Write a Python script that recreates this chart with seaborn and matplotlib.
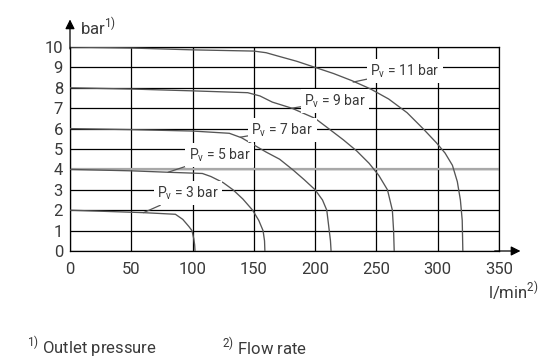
"""
Pressure / flow characteristic curves of a pressure reducing valve
"""
import numpy as np
import pandas as pd
import matplotlib
matplotlib.use("Agg")
import matplotlib.pyplot as plt
import seaborn as sns

# Curve data (flow l/min, outlet pressure bar)
flow_3 = [0, 30, 60, 86, 92, 97, 99.5, 101, 101.7, 102]
pres_3 = [2, 1.94, 1.88, 1.8, 1.55, 1.2, 1.0, 0.6, 0.3, 0]

flow_5 = [0, 50, 80, 108, 115, 125, 133, 141, 149, 154, 157.5, 158.7, 159]
pres_5 = [4, 3.93, 3.86, 3.8, 3.65, 3.35, 3.0, 2.55, 2.0, 1.5, 1.0, 0.5, 0]

flow_7 = [0, 50, 100, 130, 140, 150, 160, 171, 182, 191, 200, 206, 209.5, 211.5, 212.5, 213]
pres_7 = [6, 5.95, 5.88, 5.77, 5.55, 5.2, 4.85, 4.5, 3.97, 3.5, 3.0, 2.5, 2.0, 1.0, 0.5, 0]

flow_9 = [0, 50, 100, 145, 155, 165, 181, 200, 211, 223, 234, 244, 252, 259, 263, 264, 264.5]
pres_9 = [8, 7.94, 7.85, 7.76, 7.6, 7.3, 7.0, 6.5, 6.0, 5.45, 4.9, 4.3, 3.7, 3.0, 2.0, 1.0, 0]

flow_11 = [0, 50, 100, 150, 160, 170, 185, 200, 215, 230, 245, 260, 275, 288, 299, 306, 312, 316, 318.5, 320, 320.5]
pres_11 = [10, 9.95, 9.86, 9.8, 9.72, 9.55, 9.3, 9.0, 8.7, 8.35, 7.95, 7.45, 6.78, 6.0, 5.3, 4.8, 4.2, 3.4, 2.5, 1.5, 0]

curve_names = ["3 bar", "5 bar", "7 bar", "9 bar", "11 bar"]
flows = [flow_3, flow_5, flow_7, flow_9, flow_11]
pressures = [pres_3, pres_5, pres_7, pres_9, pres_11]

x_ticks = [0, 50, 100, 150, 200, 250, 300, 350]
y_ticks = list(range(0, 11))

# label text position and leader end point on the curve
label_pos = [(71, 2.84), (97, 4.7), (148, 5.93), (191, 7.35), (245, 8.82)]
leader_end = [(60, 1.88), (80, 3.86), (139, 5.58), (181, 7.0), (231, 8.28)]

df = pd.concat([
    pd.DataFrame({"flow": f, "pressure": p, "curve": n})
    for f, p, n in zip(flows, pressures, curve_names)
])

sns.set_style("white")
plt.rcParams['font.family'] = ['Roboto', 'DejaVu Sans']
plt.rcParams['mathtext.fontset'] = 'custom'
plt.rcParams['mathtext.rm'] = 'Roboto'
text_col = '#3a3a3a'

fig = plt.figure(figsize=(5.49, 3.63), dpi=100)
ax = fig.add_axes([70 / 549, 112 / 363, 429 / 549, 204 / 363])

ax.set_xlim(0, 350)
ax.set_ylim(0, 10)
ax.set_xticks(x_ticks)
ax.set_yticks(y_ticks)
ax.grid(True, color='black', lw=0.9)
ax.tick_params(length=0, labelsize=12, colors=text_col)
ax.tick_params(axis='x', pad=8)
ax.tick_params(axis='y', pad=5)
for sp in ax.spines.values():
    sp.set_color('black')
    sp.set_linewidth(0.9)
ax.axhline(4, color='#a8a8a8', lw=1.6, zorder=1.5)

sns.lineplot(data=df, x="flow", y="pressure", hue="curve", sort=False,
             estimator=None, palette=['#555555'] * 5, lw=0.95,
             legend=False, ax=ax, zorder=3)
ax.set_xlabel('')
ax.set_ylabel('')

for name, pos, end in zip(curve_names, label_pos, leader_end):
    ax.annotate(r'P$_{\mathregular{v}}$ = ' + name, xy=end, xytext=pos,
                fontsize=10, color=text_col, va='center', ha='left',
                bbox=dict(boxstyle='square,pad=0.25', fc='white', ec='none'),
                arrowprops=dict(arrowstyle='-', color='#555555', lw=0.9,
                                shrinkA=0, shrinkB=0),
                zorder=4)

# axis arrows
ax.annotate('', xy=(0, 1.135), xytext=(0, 0.99), xycoords='axes fraction',
            arrowprops=dict(arrowstyle='-|>', color='black', lw=0.9,
                            mutation_scale=14, shrinkA=0, shrinkB=0))
ax.annotate('', xy=(1.05, 0), xytext=(0.99, 0), xycoords='axes fraction',
            arrowprops=dict(arrowstyle='-|>', color='black', lw=0.9,
                            mutation_scale=14, shrinkA=0, shrinkB=0))

fig.text(80 / 549, 1 - 27 / 363, r'bar$^{\mathregular{1)}}$', fontsize=12,
         color=text_col, va='center', ha='left')
fig.text(488 / 549, 1 - 291 / 363, r'l/min$^{\mathregular{2)}}$', fontsize=12,
         color=text_col, va='center', ha='left')
fig.text(27 / 549, 1 - 347 / 363, r'$^{\mathregular{1)}}$ Outlet pressure',
         fontsize=12, color=text_col, va='center', ha='left')
fig.text(222 / 549, 1 - 347 / 363, r'$^{\mathregular{2)}}$ Flow rate',
         fontsize=12, color=text_col, va='center', ha='left')

fig.savefig('out.png', dpi=100)
